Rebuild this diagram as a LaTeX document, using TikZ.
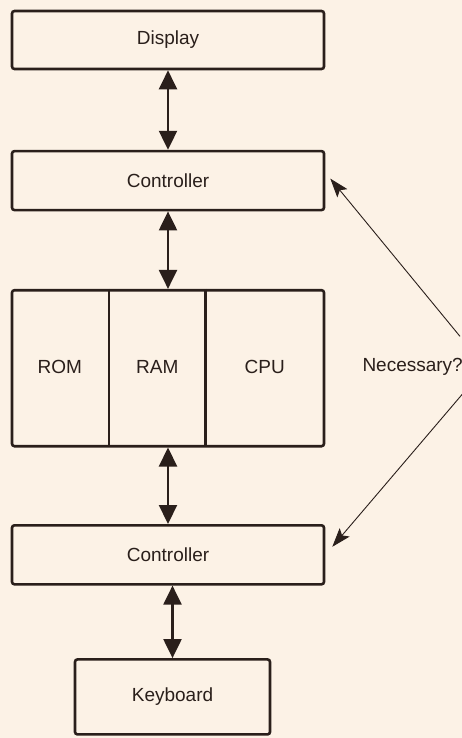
\documentclass[tikz,border=0pt]{standalone}
\usepackage{fontspec}
\setmainfont{Liberation Sans}
\usepackage{tikz}
\usetikzlibrary{arrows.meta,positioning}
\definecolor{ink}{HTML}{2A1F1B}
\definecolor{paper}{HTML}{FCF2E6}

\begin{document}
\begin{tikzpicture}[
  node distance=77pt and 37pt,
  box/.style={draw=ink,line width=2.6pt,rounded corners=2.5pt,align=center,
              minimum width=312pt,minimum height=59pt,inner sep=0pt,
              font=\fontsize{19}{22}\selectfont},
  cell/.style={minimum height=156pt,inner sep=0pt,
               font=\fontsize{19}{22}\selectfont},
  note/.style={inner sep=0pt,text=ink,font=\fontsize{19}{22}\selectfont},
  link/.style={{Triangle[length=19pt,width=18pt]}-{Triangle[length=19pt,width=18pt]},
               line width=2.2pt,draw=ink},
  hint/.style={-{Stealth[length=19pt,width=13pt,inset=4pt]},line width=0.9pt,draw=ink}
]
\fill[paper] (0,0) rectangle (462pt,-738pt);
\useasboundingbox (0,0) rectangle (462pt,-738pt);
\node[box,text=ink,minimum height=58pt] (disp) at (168pt,-40pt) {Display};
\node[box,text=ink,below=79.5pt of disp] (ctrla) {Controller};
\node[box,minimum height=156pt,below=77.5pt of ctrla] (mem) {};
\node[cell,text=ink,minimum width=98pt,anchor=north west] (rom) at (mem.north west) {ROM};
\node[cell,text=ink,minimum width=96pt,right=0pt of rom] (ram) {RAM};
\node[cell,text=ink,minimum width=118pt,right=0pt of ram] (cpu) {CPU};
\draw[draw=ink,line width=2.2pt] (ram.north west) -- (ram.south west);
\draw[draw=ink,line width=2.2pt] (ram.north east) -- (ram.south east);
\node[box,text=ink,below=76.5pt of mem] (ctrlb) {Controller};
\node[box,text=ink,minimum width=195pt,minimum height=75pt,below=72.5pt of ctrlb,xshift=4.5pt] (keyb) {Keyboard};
\node[note,right=37pt of mem,yshift=1pt] (need) {Necessary?};
\draw[link] (disp.south) -- (ctrla.north);
\draw[link] (ctrla.south) -- (mem.north);
\draw[link] (mem.south) -- (ctrlb.north);
\draw[link] (keyb.north |- ctrlb.south) -- (keyb.north);
\draw[hint] ([xshift=-3pt,yshift=22pt]need.north east) -- ([xshift=5pt,yshift=2pt]ctrla.east);
\draw[hint] ([xshift=2pt,yshift=-15pt]need.south east) -- ([xshift=7pt,yshift=8pt]ctrlb.east);
\end{tikzpicture}
\end{document}
